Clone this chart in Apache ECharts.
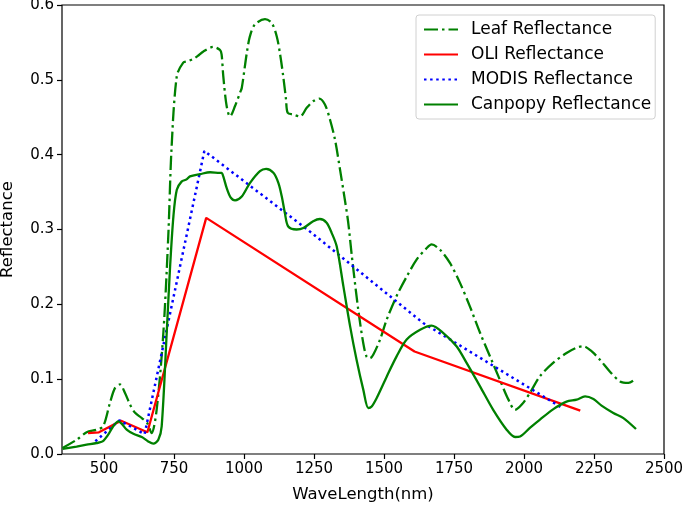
<!DOCTYPE html>
<html>
<head>
<meta charset="utf-8">
<script src="https://cdn.jsdelivr.net/npm/echarts@6/dist/echarts.min.js"></script>
<style>
html, body { margin: 0; padding: 0; background: #fff; }
#chart { width: 685px; height: 507px; }
</style>
</head>
<body>
<div id="chart"></div>
<script>
// leaf spectrum (dash-dot)
const leafWave = [352, 402, 438, 474, 497, 521, 539, 557, 575, 593, 611, 635, 655, 670, 688, 712, 730, 741, 760, 783, 800, 819, 835, 855, 890, 914, 920, 926, 938, 950, 968, 986, 992, 1010, 1021, 1039, 1075, 1099, 1117, 1129, 1140, 1150, 1156, 1176, 1200, 1224, 1247, 1269, 1289, 1307, 1325, 1343, 1358, 1372, 1385, 1408, 1426, 1438, 1450, 1462, 1486, 1510, 1545, 1581, 1617, 1652, 1670, 1700, 1736, 1771, 1807, 1843, 1879, 1914, 1944, 1968, 1992, 2021, 2057, 2105, 2152, 2188, 2212, 2242, 2271, 2307, 2343, 2373, 2400]
const leafRefl = [0.008, 0.019, 0.029, 0.0325, 0.037, 0.068, 0.088, 0.093, 0.0815, 0.066, 0.055, 0.048, 0.041, 0.028, 0.059, 0.162, 0.295, 0.407, 0.505, 0.523, 0.525, 0.528, 0.532, 0.538, 0.544, 0.540, 0.534, 0.505, 0.465, 0.451, 0.465, 0.483, 0.489, 0.536, 0.558, 0.574, 0.581, 0.576, 0.558, 0.534, 0.505, 0.474, 0.456, 0.4536, 0.451, 0.4626, 0.4714, 0.475, 0.467, 0.447, 0.42, 0.38, 0.345, 0.31, 0.265, 0.193, 0.148, 0.130, 0.128, 0.133, 0.153, 0.18, 0.211, 0.237, 0.26, 0.275, 0.28, 0.273, 0.255, 0.229, 0.197, 0.162, 0.130, 0.099, 0.073, 0.059, 0.066, 0.0815, 0.104, 0.122, 0.135, 0.142, 0.144, 0.137, 0.126, 0.110, 0.097, 0.095, 0.101]

// Landsat OLI band centres
const oliWave = [443, 482, 561, 655, 865, 1609, 2201]
const oliRefl = [0.028, 0.029, 0.0445, 0.029, 0.3155, 0.137, 0.058]

// MODIS band centres
const modisWave = [469, 555, 645, 858.5, 1240, 1640, 2130]
const modisRefl = [0.017, 0.045, 0.0265, 0.405, 0.296, 0.175, 0.063]

// canopy spectrum (solid)
const canopyWave = [352, 402, 438, 474, 495, 515, 533, 551, 563, 581, 605, 635, 658, 676, 694, 706, 724, 736, 748, 760, 777, 795, 807, 843, 879, 914, 920, 926, 938, 952, 968, 992, 1021, 1057, 1079, 1105, 1123, 1135, 1146, 1158, 1188, 1212, 1247, 1271, 1295, 1313, 1331, 1355, 1379, 1402, 1426, 1444, 1456, 1474, 1510, 1545, 1581, 1629, 1670, 1711, 1759, 1795, 1843, 1890, 1938, 1968, 1986, 2021, 2057, 2105, 2152, 2188, 2218, 2248, 2277, 2319, 2355, 2400]
const canopyRefl = [0.0067, 0.010, 0.0124, 0.0147, 0.0168, 0.0258, 0.037, 0.0436, 0.0405, 0.0325, 0.027, 0.0227, 0.0168, 0.0138, 0.019, 0.037, 0.162, 0.25, 0.318, 0.353, 0.364, 0.367, 0.371, 0.374, 0.3765, 0.3757, 0.3757, 0.371, 0.3556, 0.343, 0.339, 0.344, 0.362, 0.378, 0.381, 0.3757, 0.362, 0.344, 0.322, 0.304, 0.300, 0.302, 0.311, 0.314, 0.309, 0.2955, 0.2775, 0.224, 0.1706, 0.126, 0.086, 0.0615, 0.0636, 0.0749, 0.1037, 0.1305, 0.153, 0.166, 0.1715, 0.162, 0.144, 0.1217, 0.0904, 0.059, 0.0325, 0.0227, 0.0235, 0.0348, 0.0459, 0.060, 0.070, 0.0726, 0.077, 0.0735, 0.0646, 0.0548, 0.048, 0.0334]

const xTicks = [500, 750, 1000, 1250, 1500, 1750, 2000, 2250, 2500]

const font = 'DejaVu Sans'

function pairs(xs, ys) {
  return xs.map((x, i) => [x, ys[i]])
}

const chart = echarts.init(document.getElementById('chart'))

chart.setOption({
  animation: false,
  backgroundColor: '#fff',
  grid: {
    left: 62, right: 21, top: 5, bottom: 53,
    outerBoundsMode: 'none',
    containLabel: false,
    show: true, borderColor: '#000', borderWidth: 1.2,
  },
  legend: {
    orient: 'vertical',
    left: 416, top: 15,
    padding: [6, 4, 6, 7],
    itemWidth: 34, itemHeight: 14, itemGap: 8,
    backgroundColor: '#fff',
    borderColor: '#d0d0d0', borderWidth: 1, borderRadius: 3,
    itemStyle: { opacity: 0 },
    textStyle: { fontFamily: font, fontSize: 17, color: '#000', padding: [0, 0, 0, 8] },
    data: ['Leaf Reflectance', 'OLI Reflectance', 'MODIS Reflectance', 'Canpopy Reflectance'],
  },
  xAxis: {
    type: 'value',
    min: 350, max: 2500,
    name: 'WaveLength(nm)',
    nameLocation: 'middle',
    nameGap: 32,
    nameTextStyle: { fontFamily: font, fontSize: 16.5, color: '#000' },
    axisLine: { show: false },
    axisTick: { show: true, length: 5, lineStyle: { color: '#000', width: 1.2 }, customValues: xTicks },
    axisLabel: { fontFamily: font, fontSize: 15, color: '#000', margin: 8, customValues: xTicks, formatter: v => String(v) },
    splitLine: { show: false },
  },
  yAxis: {
    type: 'value',
    min: 0, max: 0.6, interval: 0.1,
    name: 'Reflectance',
    nameLocation: 'middle',
    nameGap: 46,
    nameTextStyle: { fontFamily: font, fontSize: 16.5, color: '#000' },
    axisLine: { show: false },
    axisTick: { show: true, length: 5, lineStyle: { color: '#000', width: 1.2 } },
    axisLabel: { fontFamily: font, fontSize: 15, color: '#000', margin: 8, formatter: v => v.toFixed(1) },
    splitLine: { show: false },
  },
  series: [
    {
      name: 'Leaf Reflectance',
      type: 'line',
      data: pairs(leafWave, leafRefl),
      symbol: 'none',
      smooth: 0.3,
      lineStyle: { color: '#008000', width: 2.3, type: [14, 4, 2.5, 4] },
      itemStyle: { color: '#008000' },
    },
    {
      name: 'OLI Reflectance',
      type: 'line',
      data: pairs(oliWave, oliRefl),
      symbol: 'none',
      lineStyle: { color: '#ff0000', width: 2.3 },
      itemStyle: { color: '#ff0000' },
    },
    {
      name: 'MODIS Reflectance',
      type: 'line',
      data: pairs(modisWave, modisRefl),
      symbol: 'none',
      lineStyle: { color: '#0000ff', width: 2.5, type: [2.5, 3.6] },
      itemStyle: { color: '#0000ff' },
    },
    {
      name: 'Canpopy Reflectance',
      type: 'line',
      data: pairs(canopyWave, canopyRefl),
      symbol: 'none',
      smooth: 0.3,
      lineStyle: { color: '#008000', width: 2.3 },
      itemStyle: { color: '#008000' },
    },
  ],
})
</script>
</body>
</html>
